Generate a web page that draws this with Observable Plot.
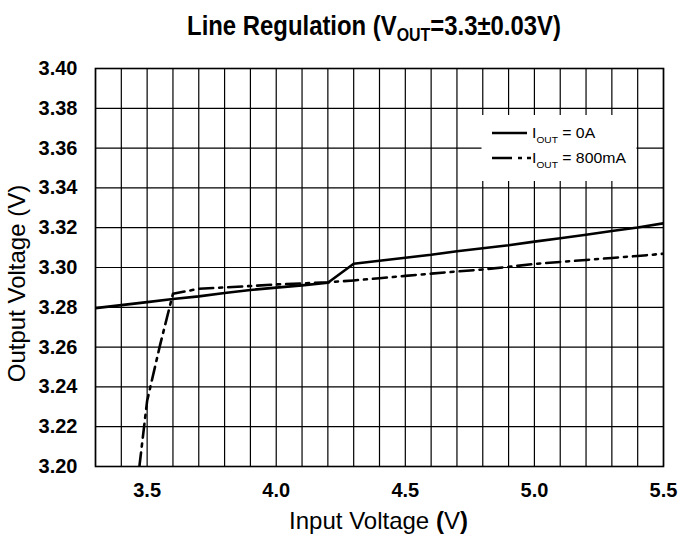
<!DOCTYPE html>
<html><head><meta charset="utf-8">
<script src="https://cdn.jsdelivr.net/npm/d3@7"></script>
<script src="https://cdn.jsdelivr.net/npm/@observablehq/plot@0.6"></script>
<style>body{margin:0;background:#fff} svg{display:block}</style>
</head><body><div id="chart"></div>
<script>
// ---- data ----
const xGrid = [3.3,3.4,3.5,3.6,3.7,3.8,3.9,4.0,4.1,4.2,4.3,4.4,4.5,4.6,4.7,4.8,4.9,5.0,5.1,5.2,5.3,5.4,5.5];
const xTicks = [3.5,4.0,4.5,5.0,5.5];
const yTicks = [3.20,3.22,3.24,3.26,3.28,3.30,3.32,3.34,3.36,3.38,3.40];

const vin0  = [3.3,3.4,3.5,3.6,3.7,3.8,3.9,4.0,4.1,4.2,4.3,4.4,4.5,4.6,4.7,4.8,4.9,5.0,5.1,5.2,5.3,5.4,5.5];
const vout0 = [3.2796,3.2811,3.2826,3.2842,3.2855,3.2872,3.2887,3.2899,3.2910,3.2923,3.3019,3.3034,3.3049,3.3064,3.3082,3.3097,3.3112,3.3130,3.3147,3.3165,3.3183,3.3201,3.3222];

const vin800  = [3.47,3.50,3.55,3.6,3.7,3.8,3.9,4.0,4.1,4.2,4.3,4.4,4.5,4.6,4.7,4.8,4.9,5.0,5.1,5.2,5.3,5.4,5.5];
const vout800 = [3.200,3.233,3.261,3.2868,3.2893,3.2900,3.2907,3.2915,3.2920,3.2926,3.2935,3.2946,3.2958,3.2969,3.2980,3.2990,3.3003,3.3018,3.3028,3.3038,3.3048,3.3058,3.3069];

const legendLabels = ["= 0A", "= 800mA"];

const s0 = vin0.map((x, i) => ({x, y: vout0[i]}));
const s800 = vin800.map((x, i) => ({x, y: vout800[i]}));

const plot = Plot.plot({
  width: 679, height: 539,
  marginTop: 68, marginBottom: 73, marginLeft: 95, marginRight: 16,
  style: {fontFamily: "'Liberation Sans', Arial, sans-serif", fontSize: "20px", fontWeight: "bold", color: "#000", background: "#fff"},
  x: {domain: [3.3, 5.5]},
  y: {domain: [3.2, 3.4]},
  marks: [
    Plot.ruleX(xGrid, {stroke: "#000", strokeWidth: 1.2}),
    Plot.ruleY(yTicks, {stroke: "#000", strokeWidth: 1.2}),
    Plot.frame({stroke: "#000", strokeWidth: 1.6}),
    Plot.axisX({ticks: xTicks, tickSize: 0, tickPadding: 16, tickFormat: d => d.toFixed(1), label: null}),
    Plot.axisY({ticks: yTicks, tickSize: 0, tickPadding: 18, tickFormat: d => d.toFixed(2), label: null}),
    Plot.line(s0, {x: "x", y: "y", stroke: "#000", strokeWidth: 2.6, clip: true}),
    Plot.line(s800, {x: "x", y: "y", stroke: "#000", strokeWidth: 2.6, strokeDasharray: "14,6,3,6", clip: true})
  ]
});
document.getElementById("chart").appendChild(plot);

const svg = d3.select(plot);

// title (condensed bold)
const title = svg.append("text")
  .attr("transform", "translate(374,35) scale(0.885,1)")
  .attr("text-anchor", "middle")
  .attr("font-family", "'Liberation Sans', Arial, sans-serif")
  .attr("font-weight", "bold").attr("font-size", 27).attr("fill", "#000");
title.append("tspan").text("Line Regulation (V");
title.append("tspan").attr("font-size", 18).attr("dy", 6).text("OUT");
title.append("tspan").attr("dy", -6).text("=3.3±0.03V)");

// axis titles
svg.append("text")
  .attr("transform", "translate(25,283.5) rotate(-90)")
  .attr("text-anchor", "middle").attr("font-weight", "normal").attr("font-size", 24).attr("fill", "#000")
  .text("Output Voltage (V)");
const xt = svg.append("text")
  .attr("x", 378.5).attr("y", 529).attr("text-anchor", "middle")
  .attr("font-weight", "normal").attr("font-size", 24).attr("fill", "#000");
xt.append("tspan").text("Input Voltage ");
xt.append("tspan").attr("font-weight", "bold").text("(");
xt.append("tspan").text("V");
xt.append("tspan").attr("font-weight", "bold").text(")");

// legend
const lg = svg.append("g");
lg.append("rect").attr("x", 481.5).attr("y", 115).attr("width", 155).attr("height", 66).attr("fill", "#fff");
const rows = [{y: 133, dash: null, x2: 527}, {y: 158, dash: "20,6,4,5,4,200", x2: 531}];
rows.forEach((r, i) => {
  const ln = lg.append("line").attr("x1", 492).attr("x2", r.x2).attr("y1", r.y).attr("y2", r.y)
    .attr("stroke", "#000").attr("stroke-width", 2.6);
  if (r.dash) ln.attr("stroke-dasharray", r.dash);
  const t = lg.append("text").attr("transform", `translate(532,${r.y + 5}) scale(1.13,1)`).attr("text-anchor", "start")
    .attr("font-weight", "normal").attr("font-size", 14).attr("fill", "#000");
  t.append("tspan").text("I");
  t.append("tspan").attr("font-size", 9).attr("dy", 5).text("OUT");
  t.append("tspan").attr("dy", -5).text(" " + legendLabels[i]);
});
</script>
</body></html>
